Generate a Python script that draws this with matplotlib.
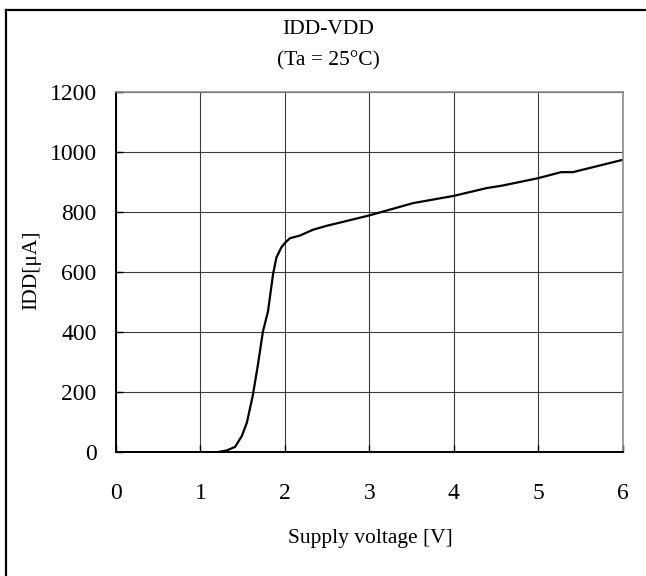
import matplotlib
matplotlib.use("Agg")
import matplotlib.pyplot as plt
from matplotlib.lines import Line2D

# Data
voltage = [0.0, 1.0, 1.19, 1.31, 1.41, 1.49, 1.55, 1.62, 1.68, 1.74, 1.80, 1.86,
           1.90, 1.96, 2.00, 2.06, 2.18, 2.33, 2.49, 2.71, 3.00, 3.52, 4.00,
           4.39, 4.57, 5.00, 5.27, 5.41, 6.00]
idd_uA = [0, 0, 0, 6, 18, 54, 99, 189, 290, 402, 469, 593,
          649, 683, 697, 713, 722, 741, 754, 769, 789, 830, 854,
          880, 888, 913, 933, 933, 974]
x_ticks = [0, 1, 2, 3, 4, 5, 6]
y_ticks = [0, 200, 400, 600, 800, 1000, 1200]
title_line1 = "IDD-VDD"
title_line2 = "(Ta = 25°C)"
x_label = "Supply voltage [V]"
y_label = "IDD[μA]"

plt.rcParams['font.family'] = ['Liberation Serif', 'DejaVu Serif']

W, H = 646, 576
fig = plt.figure(figsize=(W / 100, H / 100), dpi=100)
fig.patch.set_facecolor('white')

left, right, top, bottom = 116, 622.6, 92.0, 452.3
ax = fig.add_axes([left / W, 1 - bottom / H, (right - left) / W, (bottom - top) / H])

ax.plot(voltage, idd_uA, color='black', lw=1.6, solid_capstyle='round')

ax.set_xlim(0, 6)
ax.set_ylim(0, 1200)
ax.set_xticks(x_ticks)
ax.set_yticks(y_ticks)
ax.set_xticklabels([str(v) for v in x_ticks])
ax.set_yticklabels([str(v) for v in y_ticks])
ax.grid(True, color='#3a3a3a', lw=0.8)
ax.set_axisbelow(True)
ax.tick_params(direction='in', length=5, width=1.0, color='black', labelsize=17)
ax.tick_params(axis='y', pad=14)
ax.tick_params(axis='x', pad=22)

for s in ['top', 'right']:
    ax.spines[s].set_color('#8a8a8a')
    ax.spines[s].set_linewidth(1.2)
for s in ['left', 'bottom']:
    ax.spines[s].set_color('black')
    ax.spines[s].set_linewidth(1.4)

fig.text(328 / W, 1 - 30 / H, title_line1, ha='center', va='center', fontsize=15.5)
fig.text(328 / W, 1 - 61 / H, title_line2, ha='center', va='center', fontsize=15.5)
fig.text(370 / W, 1 - 538 / H, x_label, ha='center', va='center', fontsize=15.5)
fig.text(32 / W, 1 - 270 / H, y_label, ha='center', va='center', rotation=90, fontsize=15.5)

# outer frame (left and top edges visible)
fig.add_artist(Line2D([6 / W, 6 / W], [0, 1 - 10 / H], transform=fig.transFigure,
                      color='black', lw=1.6))
fig.add_artist(Line2D([6 / W, 1], [1 - 10 / H, 1 - 10 / H], transform=fig.transFigure,
                      color='black', lw=1.6))

fig.savefig('out.png', dpi=100)
